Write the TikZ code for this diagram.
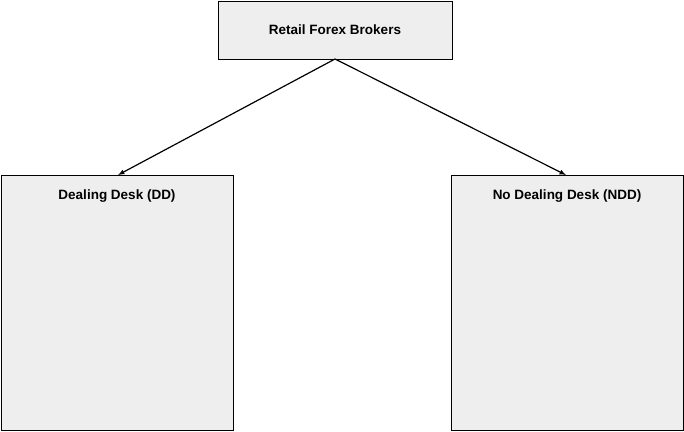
\documentclass[tikz,border=0pt]{standalone}
\usepackage{fontspec}
\setmainfont{Liberation Sans}
\begin{document}
\begin{tikzpicture}[x=1pt,y=-1pt,
  box/.style={draw=black,fill=gray!13,line width=0.8pt},
  lab/.style={font=\fontsize{13.5}{16}\selectfont\bfseries},
  arr/.style={-latex,line width=1.2pt}]
\useasboundingbox (0,0) rectangle (684,431);
\draw[box] (218,1) rectangle (452,59);
\node[lab] (top) at (335,30) {Retail Forex Brokers};
\draw[box] (1,175) rectangle (233,430);
\node[lab] (dd) at (117,196) {Dealing Desk (DD)};
\draw[box] (451,175) rectangle (683,430);
\node[lab] (ndd) at (567,196) {No Dealing Desk (NDD)};
\coordinate (s) at (335,59);
\coordinate (l) at (118,175);
\coordinate (r) at (566,175);
\draw[arr] (s) -- (l);
\draw[arr] (s) -- (r);
\end{tikzpicture}
\end{document}
